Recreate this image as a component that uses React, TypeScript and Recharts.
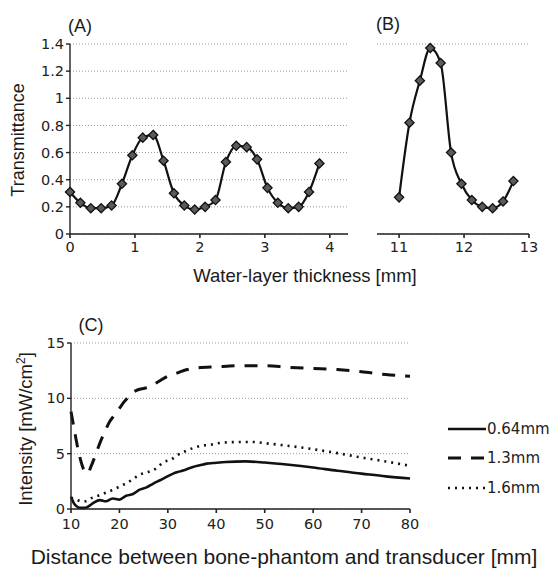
import React from 'react';
import { LineChart, Line, XAxis, YAxis, CartesianGrid, Legend } from 'recharts';

// Panel A: water-layer thickness 0 - 3.84 mm
const thicknessA = [
  0, 0.16, 0.32, 0.48, 0.64, 0.8, 0.96, 1.12, 1.28, 1.44, 1.6, 1.76, 1.92,
  2.08, 2.24, 2.4, 2.56, 2.72, 2.88, 3.04, 3.2, 3.36, 3.52, 3.68, 3.84,
];
const transmittanceA = [
  0.31, 0.23, 0.19, 0.19, 0.21, 0.37, 0.58, 0.71, 0.73, 0.54, 0.3, 0.21, 0.18,
  0.2, 0.25, 0.53, 0.65, 0.64, 0.55, 0.34, 0.23, 0.19, 0.2, 0.31, 0.52,
];

// Panel B: 11 - 12.76 mm
const thicknessB = [11.0, 11.16, 11.32, 11.48, 11.64, 11.8, 11.96, 12.12, 12.28, 12.44, 12.6, 12.76];
const transmittanceB = [0.27, 0.82, 1.13, 1.37, 1.26, 0.6, 0.37, 0.25, 0.2, 0.19, 0.24, 0.39];

const transTicks = [0, 0.2, 0.4, 0.6, 0.8, 1, 1.2, 1.4];
const ticksA = [0, 1, 2, 3, 4];
const ticksB = [11, 12, 13];

// Panel C: intensity vs distance
const dist064 = [
  10, 10.5, 11, 11.5, 12, 13, 14, 14.8, 16, 17.2, 18.6, 20, 21.4, 22.8, 24.2,
  25.6, 27, 28.4, 29.7, 31.1, 32.5, 33.9, 35.2, 36.6, 38, 39.3, 42, 46, 50, 55,
  60, 65, 70, 75, 80,
];
const int064 = [
  1.1, 0.6, 0.3, 0.15, 0.1, 0.12, 0.35, 0.6, 0.8, 0.7, 0.95, 0.85, 1.2, 1.35,
  1.75, 1.95, 2.3, 2.6, 2.9, 3.2, 3.4, 3.6, 3.8, 3.95, 4.1, 4.15, 4.25, 4.3,
  4.2, 4.0, 3.75, 3.45, 3.2, 2.95, 2.75,
];
const dist13 = [
  10, 10.5, 11, 11.5, 12, 12.5, 13, 13.5, 14, 15, 16, 17, 18, 19, 20, 21, 22,
  23, 24, 26, 28, 30, 32, 34, 36, 40, 45, 50, 55, 60, 65, 70, 75, 80,
];
const int13 = [
  8.8, 7.6, 6.4, 5.3, 4.4, 3.7, 3.35, 3.2, 3.7, 4.8, 6.0, 7.0, 7.9, 8.5, 9.1,
  9.7, 10.2, 10.6, 10.8, 11.0, 11.5, 12.0, 12.3, 12.6, 12.75, 12.85, 12.95,
  12.95, 12.8, 12.7, 12.6, 12.4, 12.15, 12.0,
];
const dist16 = [
  10, 11, 12, 13, 14.3, 15.6, 17, 18.7, 20.1, 21.5, 22.8, 24.2, 25.6, 27.7, 29,
  30.8, 32.1, 33.5, 35.2, 37, 38.7, 40.7, 44.2, 48, 50, 55, 60, 65, 70, 75, 80,
];
const int16 = [
  1.0, 0.85, 0.72, 0.7, 1.0, 1.2, 1.44, 1.74, 2.04, 2.35, 2.7, 3.1, 3.3, 3.7,
  4.2, 4.5, 4.9, 5.2, 5.5, 5.72, 5.8, 5.96, 6.05, 6.05, 5.95, 5.7, 5.4, 5.05,
  4.65, 4.3, 3.9,
];
const intensityTicks = [0, 5, 10, 15];
const distTicks = [10, 20, 30, 40, 50, 60, 70, 80];

const seriesC = [
  { name: '0.64mm', xs: dist064, ys: int064, dash: undefined as string | undefined, width: 2.6 },
  { name: '1.3mm', xs: dist13, ys: int13, dash: '13 10', width: 3 },
  { name: '1.6mm', xs: dist16, ys: int16, dash: '2 5', width: 2.6 },
];

const zip = (xs: number[], ys: number[]) => xs.map((x, i) => ({ x, y: ys[i] }));
const dataA = zip(thicknessA, transmittanceA);
const dataB = zip(thicknessB, transmittanceB);

const tickFont = { fontFamily: 'DejaVu Sans', fontSize: 14.5, fill: '#222' };
const titleFont = 'Liberation Sans, Arial, sans-serif';
const gridStroke = '#9a9a9a';

const Diamond = (props: any) => {
  const { cx, cy, index } = props;
  if (cx == null || cy == null) return <g key={index} />;
  const r = 4.6;
  return (
    <path
      key={index}
      d={`M${cx},${cy - r}L${cx + r},${cy}L${cx},${cy + r}L${cx - r},${cy}Z`}
      fill="#5a5a5a"
      stroke="#111"
      strokeWidth={1.3}
    />
  );
};

const renderLegend = (props: any) => {
  const items = props.payload || [];
  return (
    <div style={{ fontFamily: 'DejaVu Sans', fontSize: 15, color: '#222' }}>
      {items.map((entry: any) => {
        const s = seriesC.find((c) => c.name === entry.value);
        return (
          <div key={entry.value} style={{ display: 'flex', alignItems: 'center', height: 29.5 }}>
            <svg width={40} height={10} style={{ display: 'block' }}>
              <line x1={1} y1={5} x2={39} y2={5} stroke="#111" strokeWidth={s?.width ?? 2.5} strokeDasharray={s?.dash} />
            </svg>
            <span>{entry.value}</span>
          </div>
        );
      })}
    </div>
  );
};

const Text = ({ x, y, size, children, rotate }: any) => (
  <div
    style={{
      position: 'absolute',
      left: x,
      top: y,
      transform: `translate(-50%, -50%)${rotate ? ' rotate(-90deg)' : ''}`,
      fontFamily: titleFont,
      fontSize: size,
      color: '#1a1a1a',
      whiteSpace: 'nowrap',
      lineHeight: 1,
    }}
  >
    {children}
  </div>
);

export default function App() {
  return (
    <div style={{ position: 'absolute', left: 0, top: 0, width: 553, height: 568, background: '#fff', overflow: 'hidden' }}>
      <div style={{ position: 'absolute', left: 0, top: 0 }}>
        <LineChart width={360} height={290} data={dataA} margin={{ top: 44, right: 12, bottom: 26, left: 10 }}>
          <CartesianGrid horizontal vertical={false} stroke={gridStroke} strokeDasharray="1 2" />
          <XAxis
            dataKey="x"
            type="number"
            domain={[0, 4.28]}
            ticks={ticksA}
            height={30}
            tick={tickFont}
            tickSize={4}
            tickMargin={4}
            stroke="#222"
            strokeWidth={1.6}
          />
          <YAxis
            domain={[0, 1.4]}
            ticks={transTicks}
            width={60}
            tick={tickFont}
            tickSize={4}
            stroke="#222"
            strokeWidth={1.4}
          />
          <Line
            dataKey="y"
            type="monotone"
            stroke="#111"
            strokeWidth={2.2}
            dot={Diamond}
            activeDot={false}
            isAnimationActive={false}
          />
        </LineChart>
      </div>
      <div style={{ position: 'absolute', left: 360, top: 0 }}>
        <LineChart width={193} height={290} data={dataB} margin={{ top: 44, right: 24, bottom: 26, left: 17 }}>
          <CartesianGrid horizontal vertical={false} stroke={gridStroke} strokeDasharray="1 2" />
          <XAxis
            dataKey="x"
            type="number"
            domain={[10.66, 13]}
            ticks={ticksB}
            height={30}
            tick={tickFont}
            tickSize={4}
            tickMargin={4}
            stroke="#222"
            strokeWidth={1.6}
          />
          <YAxis domain={[0, 1.4]} ticks={transTicks} width={0} tick={false} axisLine={false} tickLine={false} />
          <Line
            dataKey="y"
            type="monotone"
            stroke="#111"
            strokeWidth={2.2}
            dot={Diamond}
            activeDot={false}
            isAnimationActive={false}
          />
        </LineChart>
      </div>
      <div style={{ position: 'absolute', left: 0, top: 320 }}>
        <LineChart width={553} height={220} margin={{ top: 23, right: 143, bottom: 6, left: 10 }}>
          <CartesianGrid horizontal vertical={false} stroke={gridStroke} strokeDasharray="1 2" />
          <XAxis
            dataKey="x"
            type="number"
            domain={[10, 80]}
            ticks={distTicks}
            height={25}
            tick={tickFont}
            tickSize={4}
            tickMargin={6}
            stroke="#222"
            strokeWidth={1.6}
            allowDuplicatedCategory={false}
          />
          <YAxis
            domain={[0, 15]}
            ticks={intensityTicks}
            width={61}
            tick={tickFont}
            tickSize={4}
            stroke="#222"
            strokeWidth={1.4}
          />
          {/* vertical + center/middle: legend does not shrink the plot area */}
          <Legend
            content={renderLegend}
            layout="vertical"
            verticalAlign="middle"
            align="center"
            wrapperStyle={{ left: 447, top: 94, width: 106 }}
          />
          {seriesC.map((s) => (
            <Line
              key={s.name}
              name={s.name}
              data={zip(s.xs, s.ys)}
              dataKey="y"
              type="monotone"
              stroke="#111"
              strokeWidth={s.width}
              strokeDasharray={s.dash}
              dot={false}
              activeDot={false}
              isAnimationActive={false}
            />
          ))}
        </LineChart>
      </div>

      <Text x={80} y={26} size={18}>(A)</Text>
      <Text x={388} y={24} size={18}>(B)</Text>
      <Text x={91} y={325} size={18}>(C)</Text>
      <Text x={18} y={140} size={18} rotate>Transmittance</Text>
      <Text x={305} y={276} size={18.5}>Water-layer thickness [mm]</Text>
      <Text x={25} y={429} size={18.5} rotate>
        Intensity [mW/cm<sup style={{ fontSize: 12 }}>2</sup>]
      </Text>
      <Text x={284} y={556} size={21}>Distance between bone-phantom and transducer [mm]</Text>
    </div>
  );
}
